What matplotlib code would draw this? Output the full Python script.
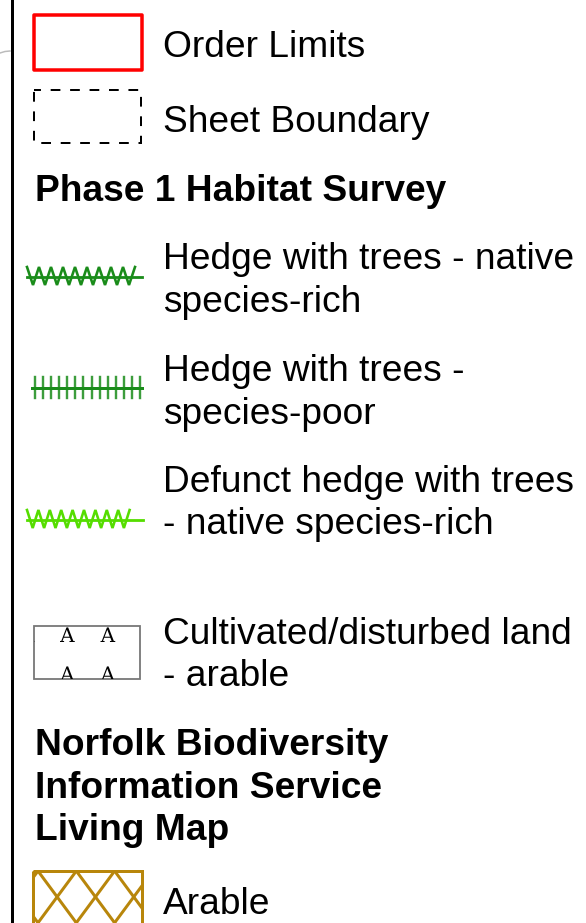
import numpy as np
import matplotlib
matplotlib.use("Agg")
import matplotlib.pyplot as plt
from matplotlib.patches import Rectangle, PathPatch
from matplotlib.textpath import TextPath
from matplotlib.font_manager import FontProperties
from matplotlib.transforms import Affine2D

plt.rcParams['font.family'] = ['Liberation Sans', 'DejaVu Sans']
plt.rcParams['lines.scale_dashes'] = False

# legend content
boundary_labels = ["Order Limits", "Sheet Boundary"]
boundary_colors = ["#ff0000", "#000000"]
header_phase1 = "Phase 1 Habitat Survey"
hedge_labels = [
    ["Hedge with trees - native", "species-rich"],
    ["Hedge with trees -", "species-poor"],
    ["Defunct hedge with trees", "- native species-rich"],
]
hedge_colors = ["#1a8c1a", "#1a8c1a", "#55dd00"]
cultivated_label = ["Cultivated/disturbed land", "- arable"]
cultivated_letter = "A"
header_nbis = ["Norfolk Biodiversity", "Information Service", "Living Map"]
arable_label = "Arable"
arable_color = "#b8860b"

FS = 26.7          # text size in pt
PX = 0.72          # 1 px in points at dpi 100
TX = 163           # x of item text
HX = 35            # x of header text
LINE = 42.5        # line spacing


def label(ax, x, y0, lines, bold=False):
    for i, s in enumerate(lines):
        ax.text(x, y0 + i * LINE, s, fontsize=FS, va='baseline', ha='left',
                fontweight='bold' if bold else 'normal', color='black')


def zigzag(ax, color, x0, x1, top, bot, period, line_y, line_end):
    n = int(round((x1 - x0) / period))
    xs = [x0]
    ys = [top]
    for k in range(n):
        xs += [x0 + period * (k + 0.5), x0 + period * (k + 1)]
        ys += [bot, top]
    ax.plot(xs, ys, color=color, lw=2.6 * PX, solid_joinstyle='miter')
    ax.plot([x0, line_end], [line_y, line_y], color=color, lw=2.8 * PX)


def ticks(ax, color, x0, x1, n, top, bot, line_y):
    for x in np.linspace(x0, x1, n):
        ax.plot([x, x], [top, bot], color=color, lw=2.4 * PX, alpha=0.85)
    ax.plot([x0 - 3, x1 + 2], [line_y, line_y], color=color, lw=3 * PX)


fig = plt.figure(figsize=(5.86, 9.23), dpi=100)
ax = fig.add_axes([0, 0, 1, 1])
ax.set_xlim(0, 586)
ax.set_ylim(923, 0)
ax.axis('off')

# frame line on the left and a bit of map edge
ax.plot([12, 12], [0, 923], color='black', lw=3 * PX)
ax.plot([0, 5, 10], [53, 51.5, 51], color='#bbbbbb', lw=1.5 * PX)

# Order limits / sheet boundary
ax.add_patch(Rectangle((33.5, 14.5), 108, 55, fill=False,
                       ec=boundary_colors[0], lw=3.5 * PX, joinstyle='round'))
ax.add_patch(Rectangle((33.5, 90), 107.5, 53, fill=False,
                       ec=boundary_colors[1], lw=2 * PX, ls=(2, (7, 7))))
label(ax, TX, 57, [boundary_labels[0]])
label(ax, TX, 132, [boundary_labels[1]])

# Phase 1 habitat survey
label(ax, HX, 201, [header_phase1], bold=True)

zigzag(ax, hedge_colors[0], 27, 135, 267, 285, 12, 277, 142)
label(ax, TX, 269, hedge_labels[0])

ticks(ax, hedge_colors[1], 35, 140, 14, 377, 398, 387.5)
label(ax, TX, 381, hedge_labels[1])

zigzag(ax, hedge_colors[2], 27, 130, 510, 528, 11.4, 520, 143)
label(ax, TX, 492, hedge_labels[2])

# Cultivated / disturbed land
crect = Rectangle((34, 626), 106, 53, fill=False, ec='#777777', lw=1.8 * PX)
ax.add_patch(crect)
serif = FontProperties(family='DejaVu Serif')
glyph = TextPath((0, 0), cultivated_letter, size=20, prop=serif)
gw = glyph.get_extents().width
for (gx, gy) in [(27, 642), (67.5, 642), (108, 642), (148.5, 642),
                 (67.5, 681), (108, 681)]:
    p = glyph.transformed(Affine2D().translate(-gw / 2, 0).scale(1, -1).translate(gx, gy))
    pp = PathPatch(p, fc='black', ec='none')
    ax.add_patch(pp)
    pp.set_clip_path(crect)
label(ax, TX, 644, cultivated_label)

# NBIS living map
label(ax, HX, 755, header_nbis, bold=True)

arect = Rectangle((33, 871), 108.5, 80, fill=False, ec=arable_color, lw=3 * PX)
ax.add_patch(arect)
slope = 25.7 / 19.0
for k in range(-4, 6):
    xa = 38 + 38.3 * k
    for s in (1, -1):
        xs = np.array([xa, xa + s * 80 / slope])
        ys = np.array([871, 951])
        ln, = ax.plot(xs, ys, color=arable_color, lw=3 * PX)
        ln.set_clip_path(arect)
label(ax, TX, 914, [arable_label])

fig.savefig("out.png", dpi=100)
